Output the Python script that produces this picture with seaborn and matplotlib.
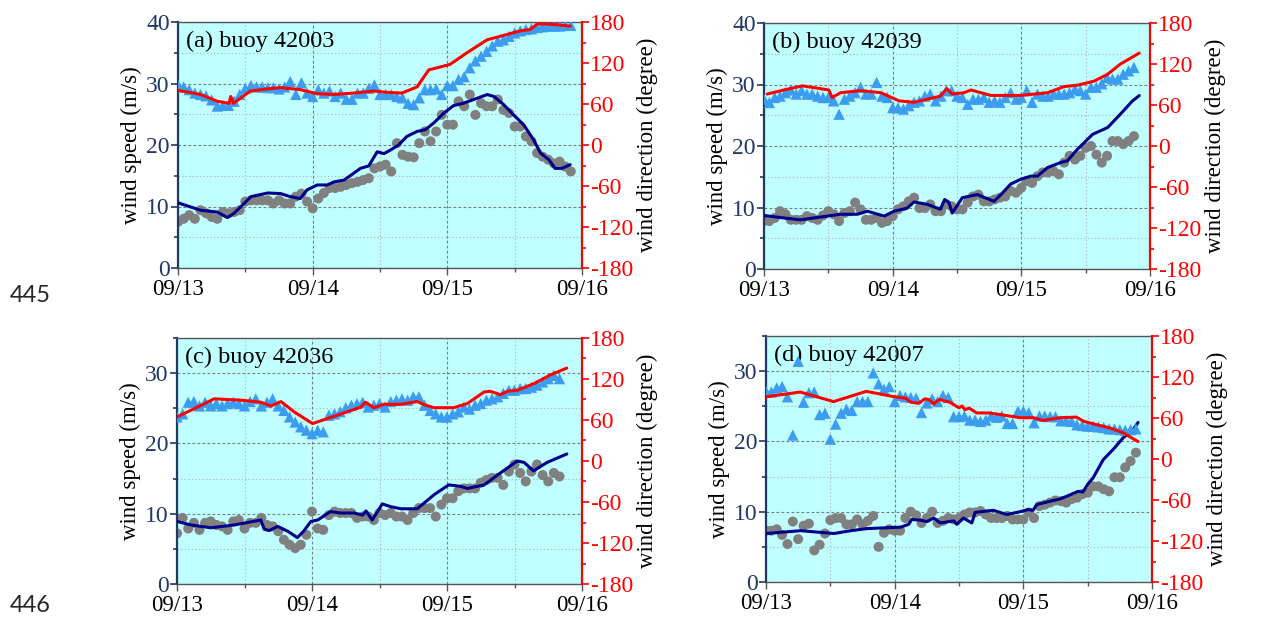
import numpy as np
import pandas as pd
import matplotlib
matplotlib.use('Agg')
import matplotlib.pyplot as plt
import matplotlib.dates as mdates
from matplotlib.ticker import MultipleLocator
import seaborn as sns

# ---------------- data ----------------
titles = ['(a) buoy 42003', '(b) buoy 42039', '(c) buoy 42036', '(d) buoy 42007']
speed_max = [40, 40, 35, 35]

# observed (hourly from 09/13 00:00)
obs_speed_a = [7.5, 8.0, 8.6, 8.0, 9.4, 8.9, 8.3, 8.0, 9.1, 8.9, 9.1, 9.4, 10.8, 11.0, 11.0, 11.0, 11.0, 10.5,
               11.0, 10.5, 10.5, 11.6, 12.1, 10.8, 9.7, 11.3, 12.2, 13.0, 13.0, 13.2, 13.5, 13.8, 14.0, 14.3,
               14.6, 16.2, 16.5, 16.8, 15.7, 20.3, 18.4, 18.1, 18.0, 20.3, 22.2, 20.6, 22.2, 24.9, 23.3, 23.3,
               27.1, 26.3, 28.2, 24.9, 26.8, 26.3, 26.3, 27.4, 25.7, 25.2, 23.0, 23.0, 21.4, 20.6, 18.7, 18.1,
               17.6, 17.0, 17.3, 16.5, 15.7]
obs_dir_a = [87, 85, 81, 76, 74, 72, 66, 57, 58, 58, 64, 74, 83, 87, 85, 85, 84, 84, 82, 85, 93, 74, 91, 76,
             71, 81, 76, 79, 71, 76, 67, 67, 76, 76, 83, 88, 74, 74, 74, 71, 69, 61, 59, 69, 81, 81, 82, 74,
             87, 87, 96, 100, 113, 123, 130, 137, 145, 152, 154, 159, 164, 167, 169, 170, 172, 173, 174, 174,
             174, 175, 175]
obs_speed_b = [7.8, 7.8, 8.3, 9.4, 8.9, 8.0, 8.0, 8.0, 8.6, 8.3, 8.0, 8.7, 9.4, 8.9, 7.8, 9.1, 9.4, 10.8, 9.7,
               8.0, 8.0, 8.3, 7.5, 7.8, 8.6, 9.7, 10.2, 11.0, 11.6, 9.9, 9.9, 10.5, 9.4, 9.4, 10.5, 10.2, 9.7,
               9.7, 10.8, 11.8, 12.1, 11.0, 11.0, 11.3, 11.6, 11.8, 12.7, 12.4, 13.2, 14.3, 14.0, 15.1, 15.7,
               15.7, 15.9, 15.4, 17.3, 18.4, 17.8, 18.4, 19.7, 20.0, 18.6, 17.3, 18.4, 20.8, 20.8, 20.3, 20.8,
               21.6]
obs_dir_b = [68.5, 63.6, 71, 73, 78, 82, 76, 81, 76, 76, 73, 71, 71, 66, 46.5, 68.5, 73, 78, 86, 76, 76, 93,
             73, 71, 56, 56, 54, 59, 64, 66, 73, 76, 66, 73, 81, 81, 73, 71, 61, 68.5, 68.5, 71, 64, 66, 64,
             71, 78, 68.5, 71, 81, 64, 76, 73, 73, 76, 76, 76, 78, 83, 81, 76, 86, 86, 91, 100, 98, 98, 105,
             110, 115]
obs_speed_c = [7.2, 9.4, 7.9, 8.7, 7.7, 8.7, 8.9, 8.4, 8.2, 7.7, 8.9, 9.1, 7.9, 8.7, 8.7, 9.4, 8.4, 8.2, 7.5,
               6.3, 5.6, 5.1, 5.6, 7.0, 10.3, 7.9, 7.7, 9.8, 10.3, 10.1, 10.1, 10.1, 9.4, 9.6, 9.6, 9.1, 10.1,
               9.8, 10.1, 9.6, 9.6, 9.1, 10.1, 10.8, 10.8, 10.8, 9.6, 11.3, 12.2, 12.2, 13.2, 13.6, 13.6, 13.6,
               14.4, 14.8, 15.1, 15.1, 14.1, 16.0, 17.0, 15.8, 14.6, 16.0, 17.0, 15.5, 14.6, 15.8, 15.3]
obs_dir_c = [64.5, 69, 86, 87, 80.6, 86, 80.6, 84, 80.6, 84, 86, 84, 80.6, 87, 91, 80.6, 86, 91, 80.6, 74,
             64.5, 57, 50, 45, 40, 45, 42.6, 67, 69, 72, 78, 81.6, 84, 86, 79, 81.6, 84, 79, 87, 89, 91, 89,
             94, 94, 81.6, 74, 69, 64.5, 64.5, 69, 72, 79, 76, 81.6, 84, 89, 91, 94, 99, 103.5, 103.5, 106,
             106, 108, 111, 115.7, 120.5, 125.4, 120.5]
obs_speed_d = [7.3, 7.3, 7.5, 6.7, 5.4, 8.6, 6.1, 8.0, 8.3, 4.5, 5.3, 6.9, 8.8, 9.1, 9.1, 8.2, 8.2, 8.9, 8.2,
               8.7, 9.4, 5.0, 7.0, 7.5, 7.3, 7.3, 9.1, 10.0, 9.5, 8.4, 9.1, 10.0, 8.4, 8.7, 9.1, 8.9, 9.1, 9.6,
               9.9, 9.9, 10.1, 9.6, 9.1, 9.1, 9.1, 9.4, 8.9, 8.9, 8.9, 9.9, 9.1, 10.8, 11.0, 11.3, 11.6, 11.5,
               11.3, 11.8, 12.0, 12.5, 12.7, 13.6, 13.6, 13.2, 12.9, 14.9, 14.9, 16.3, 17.2, 18.4]
obs_dir_d = [99, 98, 104, 106, 91, 35, 143, 83, 97, 98, 65, 67, 29, 51, 67, 73, 71, 84, 84, 84, 126, 110, 102,
             106, 84, 93, 91, 90, 89, 68, 82, 88, 84, 93, 90, 62, 62, 63, 57, 57, 55, 57, 63, 61, 63, 52, 52,
             70, 70, 68, 53, 63, 63, 62, 62, 56, 56, 55, 50, 49, 48, 48, 47, 46, 44, 44, 43, 42, 43, 44]

# model wind speed (hours since 09/13 00:00, m/s)
mod_spd_h_a = [0, 4.0, 7.0, 8.8, 10.0, 11.8, 13.0, 16.0, 18.3, 20.0, 21.8, 23.0, 24.8, 26.6, 27.8, 29.6, 31.3,
               32.5, 34.0, 35.5, 36.7, 37.9, 39.3, 40.8, 42.6, 44.1, 45.6, 47.4, 49.1, 50.9, 52.7, 55.1, 56.3,
               58.0, 59.8, 61.6, 63.4, 64.6, 66.1, 67.2, 68.4, 69.9]
mod_spd_a = [10.6, 9.4, 9.1, 8.2, 8.9, 10.5, 11.6, 12.2, 12.1, 11.6, 11.3, 12.7, 13.5, 13.5, 14.0, 14.3, 15.4,
             16.2, 16.6, 18.9, 18.6, 19.2, 20.0, 21.4, 22.2, 22.5, 23.6, 25.2, 26.4, 26.8, 27.4, 28.2, 27.9,
             26.6, 24.9, 23.3, 20.8, 18.7, 17.6, 16.2, 16.2, 16.8]
mod_spd_h_b = [0, 3.7, 6.8, 11.8, 14.3, 17.4, 19.3, 22.4, 24.3, 26.7, 28.0, 30.5, 32.9, 33.7, 34.5, 35.1, 37.0,
               39.8, 42.9, 44.2, 46.0, 47.9, 49.8, 51.0, 52.9, 55.3, 56.6, 58.5, 61.3, 64.1, 66.5, 68.7, 70.0]
mod_spd_b = [8.7, 8.3, 8.0, 8.6, 8.9, 8.9, 9.4, 8.6, 9.4, 9.9, 10.9, 10.5, 9.7, 11.3, 10.8, 9.1, 11.6, 12.1,
             11.0, 12.1, 13.8, 14.6, 15.1, 15.1, 16.5, 17.3, 17.6, 19.5, 21.9, 23.0, 25.2, 27.3, 28.2]
mod_spd_h_c = [0, 2.5, 6.0, 10.2, 14.9, 15.5, 16.4, 17.9, 19.7, 21.4, 22.5, 23.8, 25.0, 27.3, 29.1, 31.5, 33.0,
               33.6, 34.7, 36.5, 38.0, 39.8, 42.7, 45.7, 48.3, 50.4, 51.6, 54.6, 57.5, 60.5, 61.7, 63.4, 65.8,
               69.3]
mod_spd_c = [8.9, 8.4, 8.0, 8.4, 9.1, 7.8, 7.6, 8.2, 7.5, 6.6, 7.5, 8.9, 9.1, 10.3, 10.1, 10.1, 9.8, 10.4, 9.1,
             11.4, 11.0, 10.7, 10.7, 12.7, 14.1, 13.9, 13.6, 14.1, 15.8, 17.5, 17.3, 16.1, 17.3, 18.5]
mod_spd_h_d = [0, 6.5, 12.7, 15.8, 18.9, 25.1, 26.6, 27.2, 28.8, 30.0, 31.3, 32.5, 35.0, 35.6, 36.8, 38.4, 39.0,
               42.4, 44.9, 47.4, 48.9, 49.8, 50.5, 53.0, 54.8, 56.1, 58.2, 59.1, 60.1, 61.0, 62.9, 64.8, 66.6,
               68.5, 69.4]
mod_spd_d = [6.9, 7.3, 6.9, 7.3, 7.6, 7.8, 8.2, 8.9, 8.8, 8.6, 9.1, 8.4, 8.7, 8.2, 9.1, 8.4, 9.9, 10.2, 9.6,
             10.0, 10.3, 10.2, 11.0, 11.5, 11.8, 12.2, 12.9, 12.8, 14.0, 14.8, 17.4, 18.9, 20.5, 21.7, 22.7]

# model wind direction (hours since 09/13 00:00, degree)
mod_dir_h_a = [0, 4.0, 7.0, 9.1, 9.4, 9.9, 11.2, 12.9, 15.9, 18.3, 21.8, 24.8, 27.8, 31.3, 34.9, 37.3, 39.9,
               42.6, 44.7, 46.2, 48.5, 51.5, 55.1, 57.4, 61.0, 62.8, 64.0, 65.7, 67.5, 69.9]
mod_dir_a = [80, 74, 64, 61, 71, 61, 69, 79, 82, 84, 81, 75, 74, 76, 79, 77, 76, 85, 110, 113, 118, 135, 154,
             159, 167, 169, 177, 177, 176, 174]
mod_dir_h_b = [0.6, 3.7, 7.2, 12.1, 12.7, 14.3, 18.0, 21.8, 25.2, 28.0, 32.9, 34.1, 35.1, 37.3, 38.6, 42.3,
               47.9, 52.9, 56.0, 58.5, 61.6, 64.1, 66.5, 70.0]
mod_dir_b = [76, 82, 88, 82, 71, 78, 81, 78, 66, 64, 73, 84, 76, 78, 82, 74, 74, 78, 87, 89, 95, 105, 120, 136]
mod_dir_h_c = [0, 3.1, 6.6, 11.4, 14.9, 16.7, 18.5, 20.8, 24.1, 26.7, 30.3, 32.7, 33.5, 35.0, 36.8, 39.8, 42.7,
               44.2, 45.7, 49.2, 51.6, 54.6, 55.7, 57.5, 58.7, 60.5, 63.4, 66.4, 69.3]
mod_dir_c = [64.5, 76.7, 91, 89, 86, 80.6, 87, 72, 54.8, 62, 72, 79, 86, 78, 83, 83, 87, 81.6, 78, 78, 84, 101,
             102, 97, 102, 103.5, 113, 126, 136]
mod_dir_h_d = [0, 6.4, 12.6, 18.7, 24.0, 26.0, 27.1, 28.5, 29.6, 30.4, 31.3, 31.8, 32.4, 34.3, 36.0, 36.6,
               37.1, 37.9, 39.3, 41.6, 43.7, 47.4, 49.9, 51.7, 54.8, 57.9, 59.2, 61.0, 64.1, 66.6, 68.2, 69.4]
mod_dir_d = [91, 98, 84, 99, 91, 89, 83, 81.5, 88, 87, 80.5, 84, 87, 83, 75, 77.6, 72, 74.5, 67.4, 67.4, 65,
             60.4, 60.4, 56.4, 60.4, 61.3, 55.3, 51.5, 45.5, 38.5, 31, 25.5]

obs_speed = [obs_speed_a, obs_speed_b, obs_speed_c, obs_speed_d]
obs_dir = [obs_dir_a, obs_dir_b, obs_dir_c, obs_dir_d]
mod_spd = [(mod_spd_h_a, mod_spd_a), (mod_spd_h_b, mod_spd_b), (mod_spd_h_c, mod_spd_c), (mod_spd_h_d, mod_spd_d)]
mod_dir = [(mod_dir_h_a, mod_dir_a), (mod_dir_h_b, mod_dir_b), (mod_dir_h_c, mod_dir_c), (mod_dir_h_d, mod_dir_d)]

# ---------------- style ----------------
sns.set_style('ticks')
plt.rcParams['font.family'] = ['Liberation Serif', 'DejaVu Serif']
plt.rcParams['axes.unicode_minus'] = False

W, H = 1278, 617
fig = plt.figure(figsize=(W / 100, H / 100), dpi=100)

rects_px = [(178, 22, 582, 268), (764, 23, 1150, 269), (177, 338, 582, 584), (766, 336, 1152, 582)]
start = pd.Timestamp('2020-09-13 00:00')
end = pd.Timestamp('2020-09-16 00:00')

NAVY = '#1F3864'
BG = '#BFFFFF'
TRI = '#3C9CF0'
GREY = '#808080'
LINE_NAVY = '#00008B'
TICK_FS = 17
XTICK_FS = 16.5
LABEL_FS = 16.5
TITLE_FS = 17.5


def times(hours):
    return start + pd.to_timedelta(np.asarray(hours, dtype=float), unit='h')


for i in range(4):
    l, t, r, b = rects_px[i]
    ax = fig.add_axes([l / W, 1 - b / H, (r - l) / W, (b - t) / H])
    ax.set_facecolor(BG)
    ax2 = ax.twinx()

    n = len(obs_speed[i])
    obs_t = times(np.arange(n))
    nd = len(obs_dir[i])
    obs_td = times(np.arange(nd))

    # right axis (direction)
    sns.scatterplot(x=obs_td, y=obs_dir[i], ax=ax2, marker='^', s=66, color=TRI,
                    edgecolor='none', linewidth=0, zorder=2, legend=False)
    sns.lineplot(x=times(mod_dir[i][0]), y=mod_dir[i][1], ax=ax2, color='#FF0000', lw=2.2,
                 estimator=None, sort=False, zorder=3, legend=False)
    # left axis (speed)
    sns.scatterplot(x=obs_t, y=obs_speed[i], ax=ax, marker='o', s=52, color=GREY,
                    edgecolor='none', linewidth=0, zorder=2, legend=False)
    sns.lineplot(x=times(mod_spd[i][0]), y=mod_spd[i][1], ax=ax, color=LINE_NAVY, lw=2.2,
                 estimator=None, sort=False, zorder=3, legend=False)

    ax.set_xlim(start, end)
    ax.set_ylim(0, speed_max[i])
    ax2.set_ylim(-180, 180)
    ax.yaxis.set_major_locator(MultipleLocator(10))
    ax.yaxis.set_minor_locator(MultipleLocator(5))
    ax2.yaxis.set_major_locator(MultipleLocator(60))
    ax2.yaxis.set_minor_locator(MultipleLocator(30))
    ax.xaxis.set_major_locator(mdates.DayLocator())
    ax.xaxis.set_minor_locator(mdates.HourLocator(byhour=[12]))
    ax.xaxis.set_major_formatter(mdates.DateFormatter('%m/%d'))

    ax.grid(which='major', color='#7a7a7a', ls=(0, (2.5, 2)), lw=0.8)
    ax.grid(which='minor', color='#b8b8b8', ls=(0, (1.2, 2)), lw=0.8)
    ax.set_axisbelow(True)

    for s in ['top', 'bottom']:
        ax.spines[s].set_color('#555555')
        ax.spines[s].set_linewidth(1.0)
        ax2.spines[s].set_visible(False)
    ax.spines['left'].set_color(NAVY)
    ax.spines['left'].set_linewidth(1.6)
    ax.spines['right'].set_visible(False)
    ax2.spines['left'].set_visible(False)
    ax2.spines['right'].set_color('#FF0000')
    ax2.spines['right'].set_linewidth(1.6)

    ax.tick_params(axis='y', which='both', colors=NAVY, labelsize=TICK_FS, direction='out', width=1.2, pad=1)
    ax.tick_params(axis='y', which='major', length=5)
    ax.tick_params(axis='y', which='minor', length=3)
    ax2.tick_params(axis='y', which='both', colors='#FF0000', labelsize=TICK_FS, direction='out', width=1.2, pad=1)
    ax2.tick_params(axis='y', which='major', length=5)
    ax2.tick_params(axis='y', which='minor', length=3)
    ax.tick_params(axis='x', which='both', colors='#555555', labelcolor='black', labelsize=XTICK_FS,
                   direction='out', width=1.0, pad=3)
    ax.tick_params(axis='x', which='major', length=5)
    ax.tick_params(axis='x', which='minor', length=3)

    ax.set_xlabel('')
    ax.set_ylabel('wind speed (m/s)', fontsize=LABEL_FS, color='black', labelpad=3)
    ax2.set_ylabel('wind direction (degree)', fontsize=LABEL_FS, color='black', labelpad=2)

    ax.text(0.02, 0.965, titles[i], transform=ax.transAxes, fontsize=TITLE_FS, va='top', ha='left',
            color='black', zorder=10)
    ax2.set_zorder(ax.get_zorder() + 1)
    ax2.patch.set_visible(False)

fig.text(30 / W, 1 - 296 / H, '445', ha='center', va='center', fontsize=17, family='Lato')
fig.text(30 / W, 1 - 605 / H, '446', ha='center', va='center', fontsize=17, family='Lato')

fig.savefig('out.png', dpi=100)
